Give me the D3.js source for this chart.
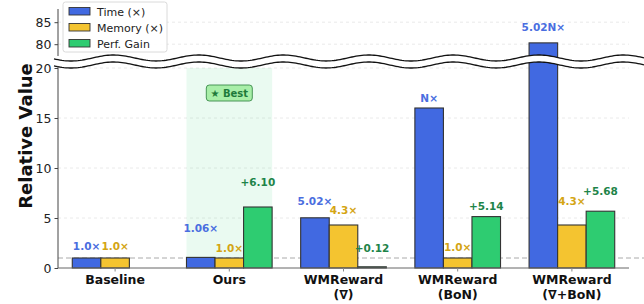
<!DOCTYPE html>
<html lang="en">
<head>
<meta charset="utf-8">
<title>Relative Value</title>
<script src="https://cdn.jsdelivr.net/npm/d3@7"></script>
<style>
  body { margin: 0; background: #fff; }
  svg text { font-family: "DejaVu Sans", sans-serif; }
</style>
</head>
<body>
<div id="chart"></div>
<script>
// categories and series
var categories = ["Baseline", "Ours", "WMReward\n(\u2207)", "WMReward\n(BoN)", "WMReward\n(\u2207+BoN)"];
var timeValues = [1.0, 1.06, 5.02, 16.0, 80.3];
var memoryValues = [1.0, 1.0, 4.3, 1.0, 4.3];
var gainValues = [0, 6.10, 0.12, 5.14, 5.68];
var timeLabels = ["1.0\u00d7", "1.06\u00d7", "5.02\u00d7", "N\u00d7", "5.02N\u00d7"];
var memoryLabels = ["1.0\u00d7", "1.0\u00d7", "4.3\u00d7", "1.0\u00d7", "4.3\u00d7"];
var gainLabels = [null, "+6.10", "+0.12", "+5.14", "+5.68"];
var lowerTicks = [0, 5, 10, 15, 20];
var upperTicks = [80, 85];
var seriesNames = ["Time (\u00d7)", "Memory (\u00d7)", "Perf. Gain"];

// label gap above the bar top (px), per series, per category
var timeGap = [8, 25, 13, 6, 12];
var memGap = [8, 6, 11, 7, 20];
var gainGap = [0, 21, 15, 7, 16];

var colors = ["#4169e1", "#f4c430", "#2ecc71"];
var textColors = ["#4a6ee0", "#d4a514", "#1e8449"];

var W = 644, H = 304;
var left = 58, right = 629;

var svg = d3.select("#chart").append("svg")
  .attr("width", W).attr("height", H);

var x = d3.scaleBand().domain(categories).range([left, right]).paddingInner(0).paddingOuter(0);
var inner = d3.scaleBand().domain([0, 1, 2]).range([0, x.bandwidth()]).paddingInner(0).paddingOuter(0.5);

var yLow = d3.scaleLinear().domain([0, 20]).range([268, 68]);
var yHigh = d3.scaleLinear().domain([78, 88]).range([53, 9]);

// grid lines
svg.selectAll(".gridL").data(lowerTicks.slice(1)).enter().append("line")
  .attr("x1", left).attr("x2", right)
  .attr("y1", d => yLow(d)).attr("y2", d => yLow(d))
  .attr("stroke", "#e4e4e4").attr("stroke-width", 0.8).attr("stroke-dasharray", "3,3");
svg.selectAll(".gridH").data(upperTicks).enter().append("line")
  .attr("x1", left).attr("x2", right)
  .attr("y1", d => yHigh(d)).attr("y2", d => yHigh(d))
  .attr("stroke", "#e4e4e4").attr("stroke-width", 0.8).attr("stroke-dasharray", "3,3");

// highlight "Ours"
svg.append("rect")
  .attr("x", x("Ours") + inner(0)).attr("width", inner.bandwidth() * 3)
  .attr("y", yLow(20)).attr("height", yLow(0) - yLow(20))
  .attr("fill", "#2ecc71").attr("fill-opacity", 0.1);

// baseline reference
svg.append("line")
  .attr("x1", left).attr("x2", W)
  .attr("y1", yLow(1)).attr("y2", yLow(1))
  .attr("stroke", "#aaa").attr("stroke-width", 1).attr("stroke-dasharray", "5,3");

var series = [timeValues, memoryValues, gainValues];

series.forEach(function(vals, s) {
  categories.forEach(function(c, i) {
    var v = vals[i];
    if (v <= 0) return;
    var bx = x(c) + inner(s);
    var bw = inner.bandwidth();
    // clipped bars run up under the break so no top edge shows
    var lowTop = v > 20 ? yLow(20) - 8 : yLow(v);
    svg.append("rect")
      .attr("x", bx).attr("y", lowTop)
      .attr("width", bw).attr("height", yLow(0) - lowTop)
      .attr("fill", colors[s]).attr("stroke", "#333").attr("stroke-width", 1.1);
    if (v > 20) {
      svg.append("rect")
        .attr("x", bx).attr("y", yHigh(v))
        .attr("width", bw).attr("height", yHigh(78) - yHigh(v) + 8)
        .attr("fill", colors[s]).attr("stroke", "#333").attr("stroke-width", 1.1);
    }
  });
});

// value labels
function addLabels(vals, labels, gaps, s) {
  categories.forEach(function(c, i) {
    if (!labels[i]) return;
    var v = vals[i];
    var top = v > 20 ? yHigh(v) : yLow(v);
    svg.append("text")
      .attr("x", x(c) + inner(s) + inner.bandwidth() / 2)
      .attr("y", top - gaps[i])
      .attr("text-anchor", "middle")
      .attr("font-size", 10.5).attr("font-weight", "bold")
      .attr("fill", textColors[s])
      .text(labels[i]);
  });
}
addLabels(timeValues, timeLabels, timeGap, 0);
addLabels(memoryValues, memoryLabels, memGap, 1);
addLabels(gainValues, gainLabels, gainGap, 2);

// break wave
var waveX = d3.range(left - 4, W + 2, 2);
function wave(y0) {
  return waveX.map(function(px) { return [px, y0 + 3 * Math.sin((px - left) / 85 * 2 * Math.PI + 0.6)]; });
}
var upperWave = wave(58), lowerWave = wave(65);
svg.append("path")
  .attr("d", d3.line()(upperWave.concat(lowerWave.slice().reverse())) + "Z")
  .attr("fill", "#fff").attr("stroke", "none");
svg.append("path").attr("d", d3.line()(upperWave)).attr("fill", "none").attr("stroke", "#111").attr("stroke-width", 1.3);
svg.append("path").attr("d", d3.line()(lowerWave)).attr("fill", "none").attr("stroke", "#111").attr("stroke-width", 1.3);

// axes
var lowAxis = svg.append("g").attr("transform", "translate(" + left + ",0)")
  .call(d3.axisLeft(yLow).tickValues(lowerTicks).tickSize(3.5).tickPadding(3));
var highAxis = svg.append("g").attr("transform", "translate(" + left + ",0)")
  .call(d3.axisLeft(yHigh).tickValues(upperTicks).tickSize(3.5).tickPadding(3));
lowAxis.select(".domain").attr("d", "M0," + yLow(0) + "V" + 66);
highAxis.select(".domain").attr("d", "M0," + 56 + "V" + yHigh(88));
[lowAxis, highAxis].forEach(function(g) {
  g.selectAll(".domain").attr("stroke", "#444");
  g.selectAll(".tick line").attr("stroke", "#444");
  g.selectAll("text").attr("font-size", 12.5).attr("fill", "#222").attr("font-family", "DejaVu Sans");
});

var xAxis = svg.append("g").attr("transform", "translate(0," + yLow(0) + ")")
  .call(d3.axisBottom(x).tickSize(3.5).tickFormat(""));
xAxis.select(".domain").attr("d", "M" + left + ",0H" + right).attr("stroke", "#666");
xAxis.selectAll(".tick line").attr("stroke", "#888");

categories.forEach(function(c) {
  var lines = c.split("\n");
  var t = svg.append("text")
    .attr("x", x(c) + x.bandwidth() / 2).attr("y", 284)
    .attr("text-anchor", "middle").attr("font-size", 12.5).attr("font-weight", "bold").attr("fill", "#111");
  lines.forEach(function(l, k) {
    t.append("tspan").attr("x", x(c) + x.bandwidth() / 2).attr("dy", k === 0 ? 0 : 15).text(l);
  });
});

// y label
svg.append("text")
  .attr("transform", "translate(32,136) rotate(-90)")
  .attr("text-anchor", "middle")
  .attr("font-size", 18).attr("font-weight", "bold").attr("fill", "#111")
  .text("Relative Value");

// Best badge
var bx0 = x("Ours") + x.bandwidth() / 2;
svg.append("rect")
  .attr("x", bx0 - 23).attr("y", 85).attr("width", 46).attr("height", 16)
  .attr("rx", 3).attr("fill", "#a8eea8").attr("stroke", "#3a8a4a").attr("stroke-width", 0.9);
svg.append("text")
  .attr("x", bx0).attr("y", 97).attr("text-anchor", "middle")
  .attr("font-size", 10).attr("font-weight", "bold").attr("fill", "#1e7a3a")
  .text("\u2605 Best");

// legend
var lg = svg.append("g").attr("transform", "translate(63,2)");
lg.append("rect").attr("width", 104).attr("height", 50).attr("rx", 2.5)
  .attr("fill", "#fff").attr("fill-opacity", 0.9).attr("stroke", "#d0d0d0").attr("stroke-width", 0.8);
seriesNames.forEach(function(n, i) {
  lg.append("rect").attr("x", 6).attr("y", 5.5 + i * 16).attr("width", 21).attr("height", 7.5)
    .attr("fill", colors[i]).attr("stroke", "#333").attr("stroke-width", 0.9);
  lg.append("text").attr("x", 34).attr("y", 13.5 + i * 16)
    .attr("font-size", 11).attr("fill", "#222").text(n);
});
</script>
</body>
</html>
